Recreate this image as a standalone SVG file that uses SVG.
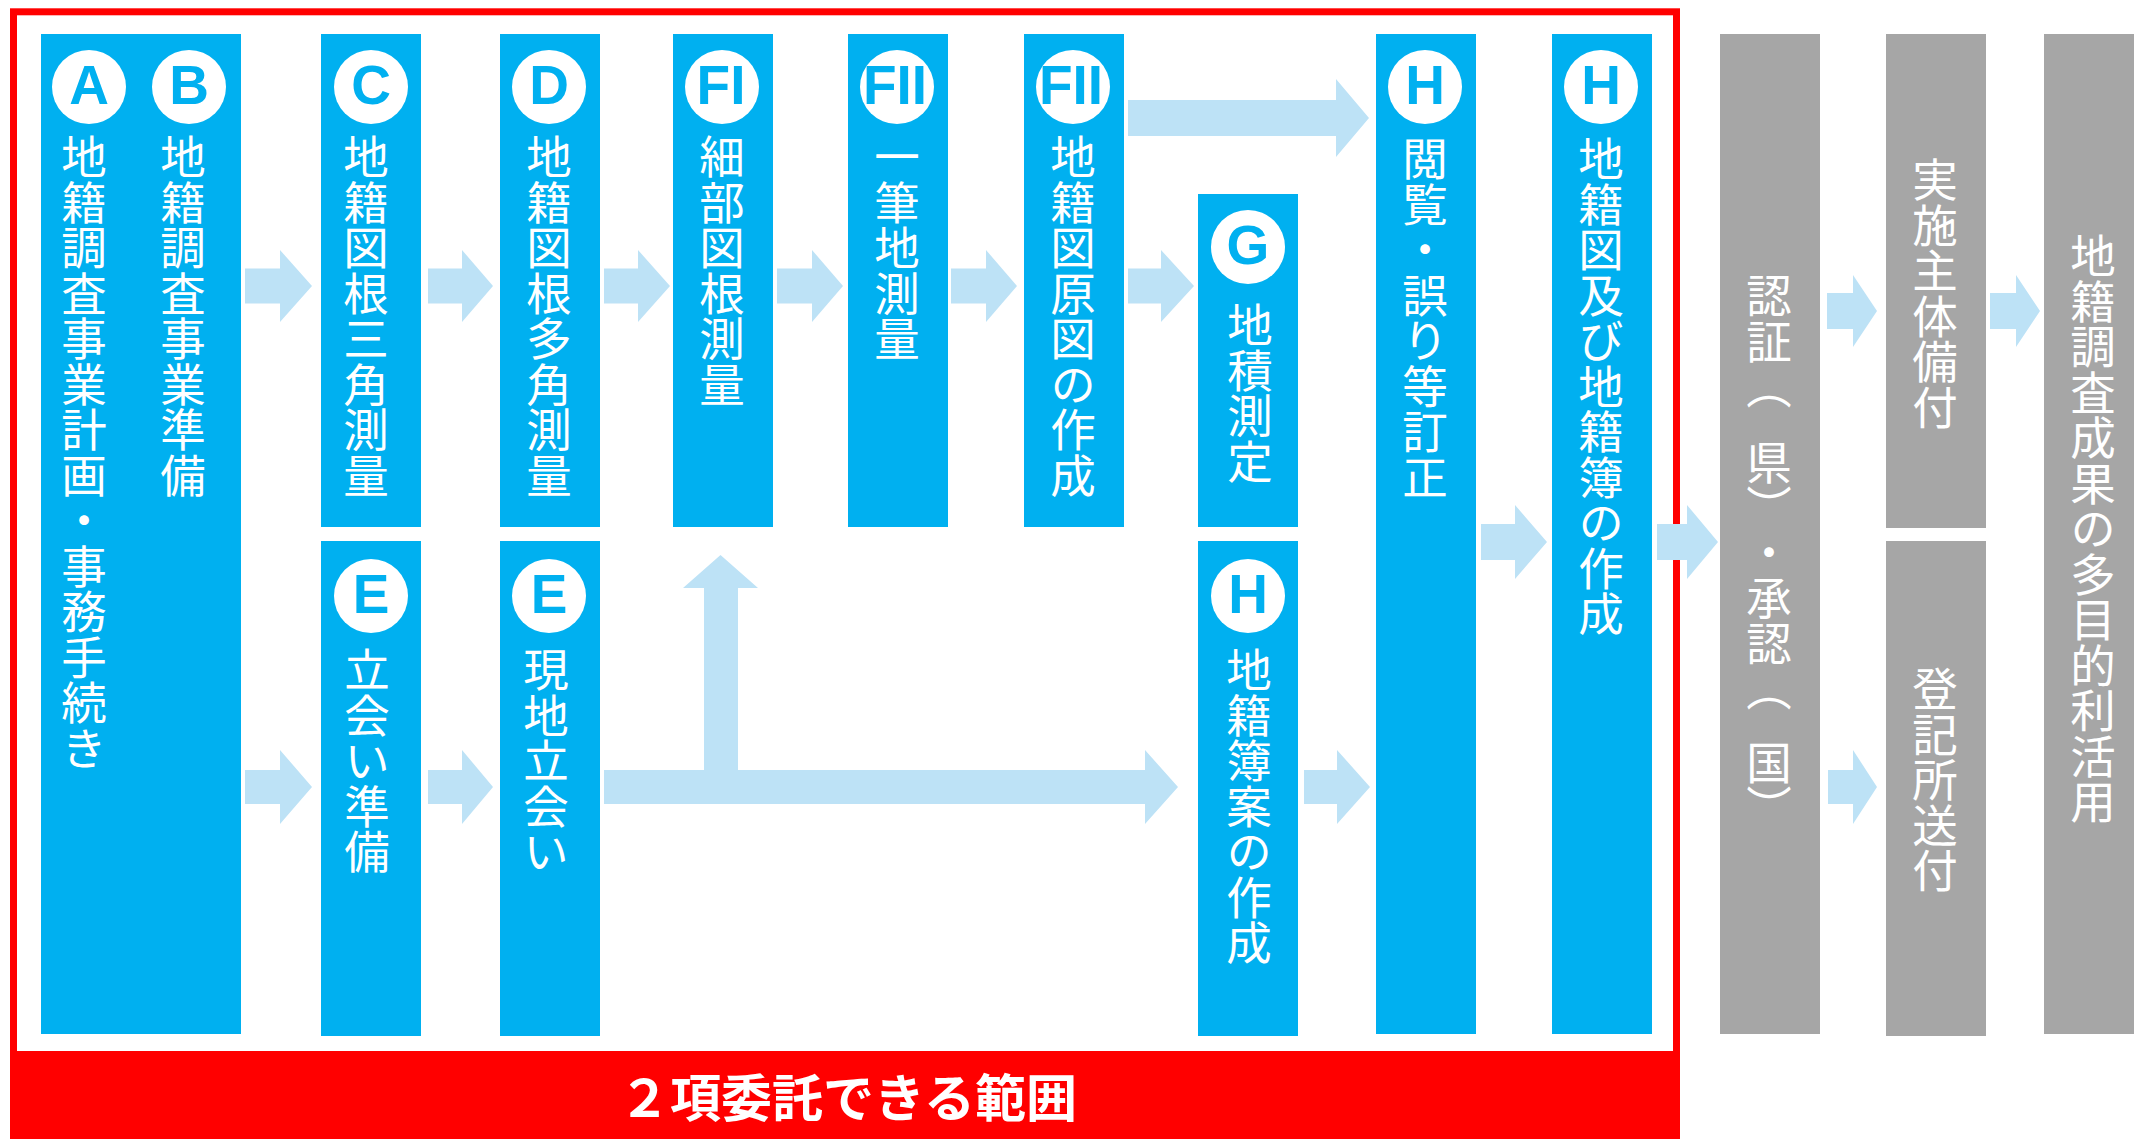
<svg xmlns="http://www.w3.org/2000/svg" width="2134" height="1139" viewBox="0 0 2134 1139">
<style>
.box{fill:#00B0F0}
.gbox{fill:#A6A6A6}
.circ{fill:#FFFFFF}
.ltr{font-family:"Liberation Sans",Arial,sans-serif;font-weight:bold;font-size:55px;fill:#00B0F0;text-anchor:middle}
.vt{font-family:"Noto Sans CJK JP",sans-serif;font-size:45.5px;fill:#FFFFFF;writing-mode:vertical-rl}
.arr{fill:#BDE2F6}
.band{font-family:"Noto Sans CJK JP",sans-serif;font-weight:bold;font-size:51px;fill:#FFFFFF;text-anchor:middle}
</style>
<rect width="2134" height="1139" fill="#FFFFFF"/>
<g id="scope">
<rect x="13.5" y="11.8" width="1663" height="1045" fill="none" stroke="#FF0000" stroke-width="7"/>
<rect x="10" y="1051" width="1670" height="88" fill="#FF0000"/>
<text class="band" x="848" y="1117">２項委託できる範囲</text>
</g>
<g id="connectors">
<polygon class="arr" points="245,268.5 280,268.5 280,250 312,286 280,322 280,303.5 245,303.5"/>
<polygon class="arr" points="428,268.5 462,268.5 462,250 493,286 462,322 462,303.5 428,303.5"/>
<polygon class="arr" points="604,268.5 638,268.5 638,250 670,286 638,322 638,303.5 604,303.5"/>
<polygon class="arr" points="777,268.5 812,268.5 812,250 843,286 812,322 812,303.5 777,303.5"/>
<polygon class="arr" points="951,268.5 986,268.5 986,250 1017,286 986,322 986,303.5 951,303.5"/>
<polygon class="arr" points="1128,268.5 1161,268.5 1161,250 1194,286 1161,322 1161,303.5 1128,303.5"/>
<polygon class="arr" points="1128,100 1336,100 1336,79 1369,118 1336,157 1336,136 1128,136"/>
<polygon class="arr" points="245,770 280,770 280,750 312,787 280,824 280,804 245,804"/>
<polygon class="arr" points="428,770 462,770 462,750 493,787 462,824 462,804 428,804"/>
<polygon class="arr" points="604,770 704,770 704,588 683,588 720.5,555 758,588 738,588 738,770 1145,770 1145,750 1178,787 1145,824 1145,804 604,804"/>
<polygon class="arr" points="1304,770 1337,770 1337,750 1370,787 1337,824 1337,804 1304,804"/>
<polygon class="arr" points="1481,524 1515,524 1515,505 1547,542 1515,579 1515,560 1481,560"/>
<polygon class="arr" points="1657,524 1687,524 1687,505 1718,542 1687,579 1687,560 1657,560"/>
<polygon class="arr" points="1827,293 1853,293 1853,275 1877,311 1853,347 1853,329 1827,329"/>
<polygon class="arr" points="1990,293 2016,293 2016,275 2040,311 2016,347 2016,329 1990,329"/>
<polygon class="arr" points="1828,770 1853,770 1853,750 1877,787 1853,824 1853,804 1828,804"/>
</g>
<g id="nodeAB">
<rect class="box" x="41" y="34" width="200" height="1000"/>
<circle class="circ" cx="89" cy="87" r="37"/>
<text class="ltr" x="89" y="104">A</text>
<circle class="circ" cx="189" cy="87" r="37"/>
<text class="ltr" x="189" y="104">B</text>
<text class="vt" x="84" y="134">地籍調査事業計画・事務手続き</text>
<text class="vt" x="183" y="134">地籍調査事業準備</text>
</g>
<g id="nodeC">
<rect class="box" x="321" y="34" width="100" height="493"/>
<circle class="circ" cx="371" cy="87" r="37"/>
<text class="ltr" x="371" y="104">C</text>
<text class="vt" x="366" y="134">地籍図根三角測量</text>
</g>
<g id="nodeE1">
<rect class="box" x="321" y="541" width="100" height="495"/>
<circle class="circ" cx="371" cy="596" r="37"/>
<text class="ltr" x="371" y="613">E</text>
<text class="vt" x="367" y="647">立会い準備</text>
</g>
<g id="nodeD">
<rect class="box" x="500" y="34" width="100" height="493"/>
<circle class="circ" cx="549" cy="87" r="37"/>
<text class="ltr" x="549" y="104">D</text>
<text class="vt" x="549" y="134">地籍図根多角測量</text>
</g>
<g id="nodeE2">
<rect class="box" x="500" y="541" width="100" height="495"/>
<circle class="circ" cx="549" cy="596" r="37"/>
<text class="ltr" x="549" y="613">E</text>
<text class="vt" x="546" y="647">現地立会い</text>
</g>
<g id="nodeF1">
<rect class="box" x="673" y="34" width="100" height="493"/>
<circle class="circ" cx="722" cy="87" r="37"/>
<text class="ltr" x="721" y="104">FI</text>
<text class="vt" x="722" y="134">細部図根測量</text>
</g>
<g id="nodeF2">
<rect class="box" x="848" y="34" width="100" height="493"/>
<circle class="circ" cx="897" cy="87" r="37"/>
<text class="ltr" x="895" y="104">FII</text>
<text class="vt" x="897" y="134">一筆地測量</text>
</g>
<g id="nodeF3">
<rect class="box" x="1024" y="34" width="100" height="493"/>
<circle class="circ" cx="1073" cy="87" r="37"/>
<text class="ltr" x="1071" y="104">FII</text>
<text class="vt" x="1073" y="134">地籍図原図の作成</text>
</g>
<g id="nodeG">
<rect class="box" x="1198" y="194" width="100" height="333"/>
<circle class="circ" cx="1248" cy="247" r="37"/>
<text class="ltr" x="1248" y="264">G</text>
<text class="vt" x="1250" y="302">地積測定</text>
</g>
<g id="nodeHdraft">
<rect class="box" x="1198" y="541" width="100" height="495"/>
<circle class="circ" cx="1248" cy="596" r="37"/>
<text class="ltr" x="1248" y="613">H</text>
<text class="vt" x="1249" y="647">地籍簿案の作成</text>
</g>
<g id="nodeH1">
<rect class="box" x="1376" y="34" width="100" height="1000"/>
<circle class="circ" cx="1425" cy="87" r="37"/>
<text class="ltr" x="1425" y="104">H</text>
<text class="vt" x="1425" y="136">閲覧・誤り等訂正</text>
</g>
<g id="nodeH2">
<rect class="box" x="1552" y="34" width="100" height="1000"/>
<circle class="circ" cx="1601" cy="87" r="37"/>
<text class="ltr" x="1601" y="104">H</text>
<text class="vt" x="1601" y="136">地籍図及び地籍簿の作成</text>
</g>
<g id="nodeApproval">
<rect class="gbox" x="1720" y="34" width="100" height="1000"/>
<text class="vt" x="1769" y="273">認証<tspan style="letter-spacing:30px">（</tspan>県<tspan style="letter-spacing:22px">）</tspan>・承認<tspan style="letter-spacing:28px">（</tspan>国<tspan style="letter-spacing:28px">）</tspan></text>
</g>
<g id="nodeKeep">
<rect class="gbox" x="1886" y="34" width="100" height="494"/>
<text class="vt" x="1935" y="157">実施主体備付</text>
</g>
<g id="nodeRegistry">
<rect class="gbox" x="1886" y="541" width="100" height="495"/>
<text class="vt" x="1935" y="666">登記所送付</text>
</g>
<g id="nodeUse">
<rect class="gbox" x="2044" y="34" width="100" height="1000"/>
<text class="vt" x="2093" y="233">地籍調査成果の多目的利活用</text>
</g>
</svg>
